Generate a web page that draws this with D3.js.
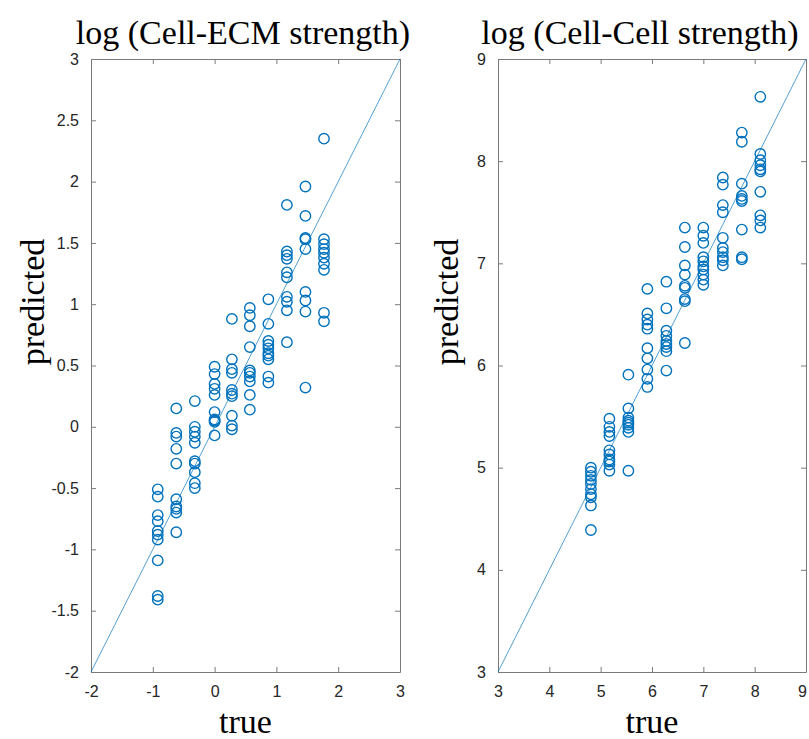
<!DOCTYPE html>
<html>
<head>
<meta charset="utf-8">
<script src="https://cdn.jsdelivr.net/npm/d3@7"></script>
<style>
  html, body { margin: 0; padding: 0; background: #fff; }
  svg { display: block; }
  .tick text { font-family: "Liberation Sans", Arial, sans-serif; font-size: 16px; fill: #262626; }
  .lbl { font-family: "Liberation Serif", "Times New Roman", serif; fill: #000; }
</style>
</head>
<body>
<svg id="chart"></svg>
<script>
// ───────────────── DATA ─────────────────
// Cell-ECM panel: "true" value groups and predicted values for each group
const ecmTrue = [-0.92, -0.62, -0.32, 0, 0.28, 0.57, 0.87, 1.17, 1.47, 1.77];
const ecmPred = [
  [-0.51, -0.57, -0.72, -0.77, -0.85, -0.88, -0.92, -1.09, -1.38, -1.41],
  [0.15, -0.05, -0.08, -0.18, -0.30, -0.59, -0.65, -0.67, -0.70, -0.86],
  [0.21, 0.00, -0.04, -0.08, -0.13, -0.28, -0.30, -0.37, -0.46, -0.50],
  [0.49, 0.43, 0.35, 0.31, 0.26, 0.12, 0.06, 0.05, 0.04, -0.07],
  [0.88, 0.55, 0.47, 0.44, 0.30, 0.27, 0.25, 0.09, 0.01, -0.02],
  [0.97, 0.91, 0.82, 0.65, 0.46, 0.44, 0.41, 0.37, 0.26, 0.14],
  [1.04, 0.84, 0.70, 0.67, 0.64, 0.60, 0.58, 0.55, 0.41, 0.36],
  [1.81, 1.43, 1.40, 1.37, 1.26, 1.22, 1.06, 1.02, 0.95, 0.69],
  [1.96, 1.72, 1.54, 1.53, 1.45, 1.10, 1.03, 0.94, 0.32],
  [2.35, 1.53, 1.49, 1.45, 1.42, 1.38, 1.33, 1.28, 0.93, 0.86]
];

// Cell-Cell panel
const cellTrue = [4.81, 5.17, 5.54, 5.91, 6.28, 6.64, 7.0, 7.38, 7.75, 8.11];
const cellPred = [
  [5.00, 4.96, 4.92, 4.88, 4.84, 4.79, 4.74, 4.71, 4.63, 4.39],
  [5.48, 5.40, 5.35, 5.31, 5.17, 5.13, 5.08, 5.06, 5.03, 4.97],
  [5.91, 5.58, 5.49, 5.46, 5.44, 5.42, 5.39, 5.35, 4.97],
  [6.75, 6.51, 6.45, 6.40, 6.36, 6.17, 6.07, 5.96, 5.87, 5.79],
  [6.82, 6.56, 6.34, 6.29, 6.24, 6.21, 6.18, 6.14, 5.95],
  [7.35, 7.16, 6.98, 6.89, 6.78, 6.76, 6.65, 6.63, 6.22],
  [7.35, 7.27, 7.20, 7.06, 7.02, 6.97, 6.94, 6.89, 6.84, 6.79],
  [7.84, 7.77, 7.57, 7.50, 7.25, 7.15, 7.11, 7.06, 7.03, 6.98],
  [8.28, 8.19, 7.78, 7.66, 7.63, 7.61, 7.33, 7.06, 7.04],
  [8.63, 8.07, 8.01, 7.96, 7.92, 7.90, 7.70, 7.47, 7.42, 7.35]
];

const ecmXTicks = [-2, -1, 0, 1, 2, 3];
const ecmYTicks = [-2, -1.5, -1, -0.5, 0, 0.5, 1, 1.5, 2, 2.5, 3];
const cellTicks = [3, 4, 5, 6, 7, 8, 9];

const titles = ["log (Cell-ECM strength)", "log (Cell-Cell strength)"];

// ───────────────── SIZE ─────────────────
const W = 809;
const H = 739;
const BLUE = "#0072BD";
const AXIS = "#7a7a7a";

const svg = d3.select("#chart")
  .attr("width", W)
  .attr("height", H)
  .attr("viewBox", `0 0 ${W} ${H}`);

svg.append("rect").attr("width", W).attr("height", H).attr("fill", "#fff");

// plain hyphen minus like the original
const fmt = d => String(d);

const panels = [
  {
    left: 91, right: 400, top: 59, bottom: 672,
    domain: [-2, 3], xTicks: ecmXTicks, yTicks: ecmYTicks,
    xs: ecmTrue, ys: ecmPred, title: titles[0], titleX: 243, ylabX: 44
  },
  {
    left: 498, right: 806, top: 59, bottom: 672,
    domain: [3, 9], xTicks: cellTicks, yTicks: cellTicks,
    xs: cellTrue, ys: cellPred, title: titles[1], titleX: 640, ylabX: 458
  }
];

panels.forEach(p => {
  const x = d3.scaleLinear().domain(p.domain).range([p.left, p.right]);
  const y = d3.scaleLinear().domain(p.domain).range([p.bottom, p.top]);
  const innerW = p.right - p.left;
  const g = svg.append("g");

  // ───── AXES (box with inward ticks) ─────
  const styleAxis = sel => {
    sel.select(".domain").attr("stroke", AXIS).attr("stroke-width", 1);
    sel.selectAll(".tick line").attr("stroke", AXIS).attr("stroke-width", 1);
  };

  const xAxis = g.append("g")
    .attr("transform", `translate(0,${p.bottom})`)
    .call(d3.axisBottom(x).tickValues(p.xTicks).tickSize(-5).tickSizeOuter(0).tickPadding(14).tickFormat(fmt))
    .call(styleAxis);

  // keep the last label inside the page edge
  xAxis.selectAll(".tick text")
    .filter(d => x(d) > W - 8)
    .attr("dx", -4);

  g.append("g")
    .attr("transform", `translate(0,${p.top})`)
    .call(d3.axisTop(x).tickValues(p.xTicks).tickSize(-5).tickSizeOuter(0).tickFormat(""))
    .call(styleAxis);

  g.append("g")
    .attr("transform", `translate(${p.left},0)`)
    .call(d3.axisLeft(y).tickValues(p.yTicks).tickSize(-5).tickSizeOuter(0).tickPadding(12).tickFormat(fmt))
    .call(styleAxis);

  g.append("g")
    .attr("transform", `translate(${p.right},0)`)
    .call(d3.axisRight(y).tickValues(p.yTicks).tickSize(-5).tickSizeOuter(0).tickFormat(""))
    .call(styleAxis);

  g.selectAll(".tick text").attr("fill", "#262626");

  // ───── IDENTITY LINE ─────
  g.append("line")
    .attr("x1", x(p.domain[0])).attr("y1", y(p.domain[0]))
    .attr("x2", x(p.domain[1])).attr("y2", y(p.domain[1]))
    .attr("stroke", BLUE)
    .attr("stroke-opacity", 0.85)
    .attr("stroke-width", 0.8);

  // ───── POINTS ─────
  const pts = [];
  p.xs.forEach((xv, i) => p.ys[i].forEach(yv => pts.push({ t: xv, v: yv })));

  g.selectAll("circle")
    .data(pts)
    .join("circle")
    .attr("cx", d => x(d.t))
    .attr("cy", d => y(d.v))
    .attr("r", 5.2)
    .attr("fill", "none")
    .attr("stroke", BLUE)
    .attr("stroke-width", 1.4);

  // ───── LABELS ─────
  svg.append("text")
    .attr("class", "lbl")
    .attr("x", p.titleX)
    .attr("y", 44)
    .attr("text-anchor", "middle")
    .style("font-size", "34px")
    .text(p.title);

  svg.append("text")
    .attr("class", "lbl")
    .attr("x", p.left + innerW / 2)
    .attr("y", 733)
    .attr("text-anchor", "middle")
    .style("font-size", "34px")
    .text("true");

  svg.append("text")
    .attr("class", "lbl")
    .attr("transform", `translate(${p.ylabX},302) rotate(-90)`)
    .attr("text-anchor", "middle")
    .style("font-size", "34px")
    .text("predicted");
});
</script>
</body>
</html>
